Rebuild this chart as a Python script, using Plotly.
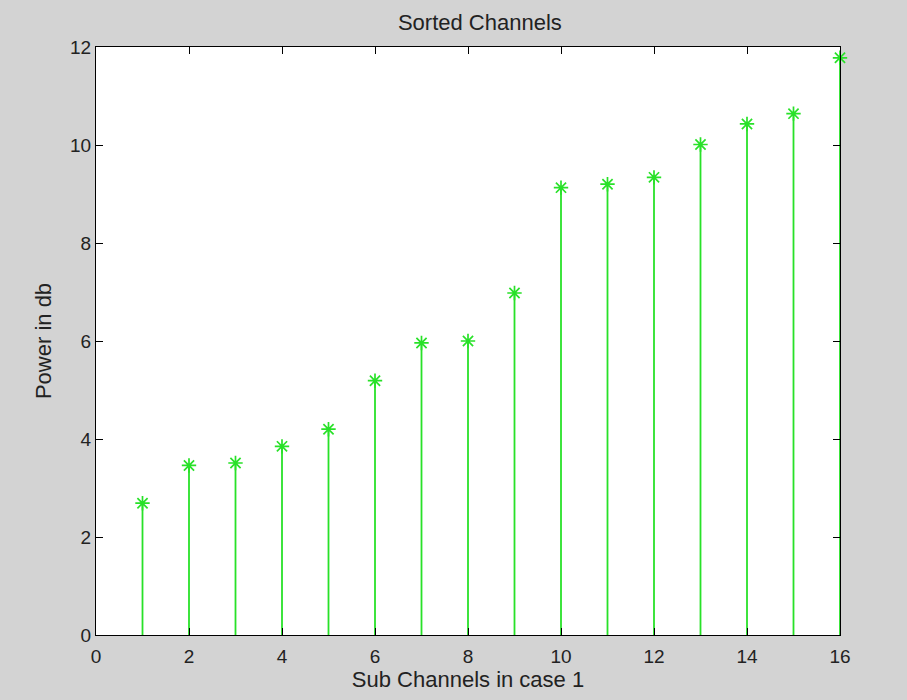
import plotly.graph_objects as go

channels = list(range(1, 17))
power_db = [2.69, 3.46, 3.51, 3.85, 4.20, 5.19, 5.96, 6.00, 6.98, 9.13, 9.20, 9.34, 10.01, 10.43, 10.64, 11.78]
x_ticks = [0, 2, 4, 6, 8, 10, 12, 14, 16]
y_ticks = [0, 2, 4, 6, 8, 10, 12]

green = "rgb(40,225,40)"
fig = go.Figure()
fig.add_trace(go.Scatter(
    x=channels, y=power_db, mode="markers", cliponaxis=False,
    marker=dict(symbol="asterisk-open", size=12, line=dict(color=green, width=1.7), color=green),
    error_y=dict(type="data", symmetric=False, array=[0] * len(power_db), arrayminus=power_db,
                 color=green, thickness=1.8, width=0),
    showlegend=False,
))

fam = "Liberation Sans, Arial, sans-serif"
tick_font = dict(family=fam, size=19, color="#222222")
label_font = dict(family=fam, size=22, color="#222222")
fig.update_layout(
    width=907, height=700,
    paper_bgcolor="#d3d3d3", plot_bgcolor="#ffffff",
    margin=dict(l=96, r=67, t=47, b=65),
    title=dict(text="Sorted Channels", x=0.5 * (96 + 840) / 907, xref="paper", xanchor="center",
               y=1 - 22 / 700, yanchor="middle", font=label_font),
    xaxis=dict(range=[0, 16], tickvals=x_ticks, ticks="inside", ticklen=7, tickcolor="black",
               showline=True, linecolor="black", linewidth=1, mirror="ticks", showgrid=False,
               zeroline=False, tickfont=tick_font, ticklabelstandoff=4,
               title=dict(text="Sub Channels in case 1", font=label_font, standoff=4)),
    yaxis=dict(range=[0, 12], tickvals=y_ticks, ticks="inside", ticklen=7, tickcolor="black",
               showline=True, linecolor="black", linewidth=1, mirror="ticks", showgrid=False,
               zeroline=False, tickfont=tick_font,
               title=dict(text="Power in db", font=label_font, standoff=12)),
)
fig.write_html("out.html", config={"displayModeBar": False},
               post_script="document.body.style.margin='0';document.body.style.background='#d3d3d3';")
